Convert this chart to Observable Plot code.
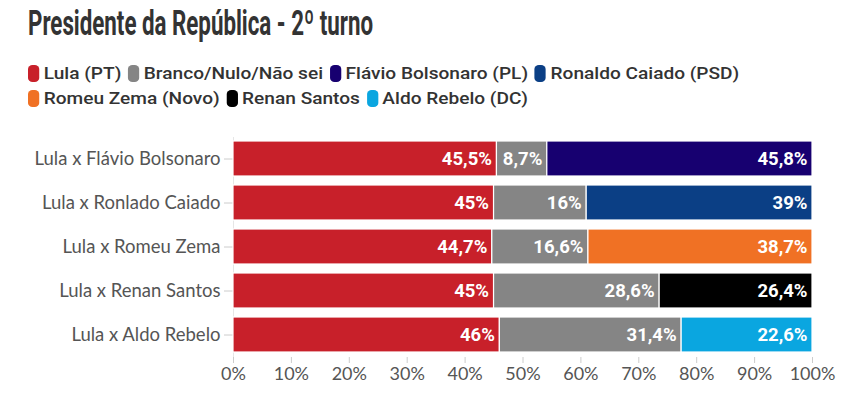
<!DOCTYPE html>
<html><head><meta charset="utf-8">
<script src="https://cdn.jsdelivr.net/npm/d3@7"></script>
<script src="https://cdn.jsdelivr.net/npm/@observablehq/plot@0.6"></script>
<style>
body{margin:0;background:#fff;width:852px;height:396px;overflow:hidden;font-family:Roboto,sans-serif;}
#title{position:absolute;left:28px;top:3px;font-family:Roboto;font-weight:bold;font-size:35px;color:#333;white-space:nowrap;transform-origin:0 0}
.legrow{position:absolute;left:28px;font-family:Roboto;font-weight:500;font-size:17px;color:#333;white-space:nowrap;transform-origin:0 0}
.item{display:inline-block;margin-right:6px;white-space:nowrap}
.sw{display:inline-block;width:10px;height:17px;border-radius:4px;vertical-align:-3px;margin-right:4px}
#chart{position:absolute;left:0;top:125px}
</style></head>
<body>
<div id="title">Presidente da República - 2º turno</div>
<div class="legrow" id="leg1" style="top:63px"></div>
<div class="legrow" id="leg2" style="top:88px"></div>
<div id="chart"></div>
<script>
const matchups = ["Lula x Flávio Bolsonaro","Lula x Ronlado Caiado","Lula x Romeu Zema","Lula x Renan Santos","Lula x Aldo Rebelo"];
const opponents = ["Flávio Bolsonaro (PL)","Ronaldo Caiado (PSD)","Romeu Zema (Novo)","Renan Santos","Aldo Rebelo (DC)"];
const lula = [45.5,45,44.7,45,46];
const branco = [8.7,16,16.6,28.6,31.4];
const opponent = [45.8,39,38.7,26.4,22.6];
const seriesNames = ["Lula (PT)","Branco/Nulo/Não sei","Flávio Bolsonaro (PL)","Ronaldo Caiado (PSD)","Romeu Zema (Novo)","Renan Santos","Aldo Rebelo (DC)"];
const seriesColors = ["#c8202a","#858585","#170070","#0b3f85","#f07124","#000000","#0aa6e0"];
const xTicks = [0,10,20,30,40,50,60,70,80,90,100];

const data = [];
matchups.forEach((m,i)=>{
  data.push({m, s:"Lula (PT)", v:lula[i], order:0});
  data.push({m, s:"Branco/Nulo/Não sei", v:branco[i], order:1});
  data.push({m, s:opponents[i], v:opponent[i], order:2});
});
const fmt = v => String(v).replace(".",",")+"%";

seriesNames.forEach((n,i)=>{
  const s=document.createElement("span");s.className="item";
  s.innerHTML=`<span class="sw" style="background:${seriesColors[i]}"></span>${n}`;
  document.getElementById(i<4?"leg1":"leg2").appendChild(s);
});
function fitWidth(el, w){ const r=el.getBoundingClientRect().width; el.style.transform=`scaleX(${w/r})`; }
fitWidth(document.getElementById("title"), 345);
const l1=document.getElementById("leg1"), l2=document.getElementById("leg2");
const k = 718/l1.getBoundingClientRect().width;
l1.style.transform=`scaleX(${k})`; l2.style.transform=`scaleX(${k})`;

const stack = {x:"v", y:"m", order:"order"};
const chart = Plot.plot({
  width:852, height:271,
  marginLeft:233, marginRight:40, marginTop:12, marginBottom:39,
  style:{fontFamily:"Lato, sans-serif", fontSize:"16px", color:"#555", background:"white"},
  x:{domain:[0,100], ticks:xTicks, tickFormat:d=>d+"%", label:null},
  y:{domain:matchups, paddingInner:0.2, paddingOuter:0.1, label:null},
  color:{domain:seriesNames, range:seriesColors},
  marks:[
    Plot.ruleX([0],{stroke:"#e6e6e6"}),
    Plot.axisX({ticks:xTicks, tickFormat:d=>d+"%", stroke:"#ccc", tickSize:6, tickPadding:4, fontSize:18, fill:"#555", label:null}),
    Plot.axisY({tickSize:9, tickPadding:4, stroke:"#ccc", fill:"#555", fontSize:18.5, label:null}),
    Plot.barX(data, Plot.stackX({...stack, fill:"s", stroke:"white", strokeWidth:1.2})),
    Plot.text(data, Plot.stackX2({...stack, text:d=>fmt(d.v), textAnchor:"end", dx:-5, fill:"white", fontWeight:"bold", fontSize:18.5, fontFamily:"Roboto"}))
  ]
});
document.getElementById("chart").appendChild(chart);
</script>
</body></html>
